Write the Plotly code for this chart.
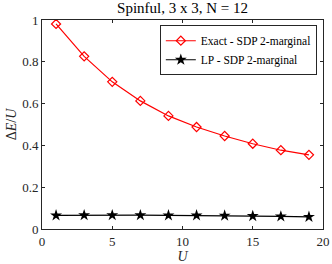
import plotly.graph_objects as go

U = [1, 3, 5, 7, 9, 11, 13, 15, 17, 19]
exact_sdp = [0.981, 0.826, 0.704, 0.613, 0.541, 0.488, 0.445, 0.408, 0.377, 0.355]
lp_sdp = [0.065, 0.066, 0.066, 0.066, 0.065, 0.065, 0.064, 0.062, 0.060, 0.058]
x_ticks = [0, 5, 10, 15, 20]
y_ticks = [0, 0.2, 0.4, 0.6, 0.8, 1]

font = "Liberation Serif, Times New Roman, Times, serif"
fig = go.Figure()
fig.add_trace(go.Scatter(x=U, y=exact_sdp, mode="lines+markers", name="Exact - SDP 2-marginal",
                         line=dict(color="#ff0000", width=1.2),
                         marker=dict(symbol="diamond-open", size=7, color="#ff0000", line=dict(width=1.2))))
fig.add_trace(go.Scatter(x=U, y=lp_sdp, mode="lines+markers", name="LP - SDP 2-marginal",
                         line=dict(color="#000000", width=1.2),
                         marker=dict(symbol="star", size=9, color="#000000")))

axis_common = dict(showgrid=False, zeroline=False, showline=True, linecolor="#262626", linewidth=1,
                   mirror="ticks", ticks="inside", ticklen=3, tickcolor="#262626", automargin=False,
                   tickfont=dict(family=font, size=13, color="#262626"))
fig.update_xaxes(range=[0, 20], tickvals=x_ticks, ticktext=[str(v) for v in x_ticks],
                 title=dict(text="<i>U</i>", font=dict(family=font, size=14, color="#262626"), standoff=0),
                 **axis_common)
fig.update_yaxes(range=[0, 1], tickvals=y_ticks, ticktext=["0", "0.2", "0.4", "0.6", "0.8", "1"],
                 title=dict(text="Δ<i>E</i>/<i>U</i>", font=dict(family=font, size=14, color="#262626"), standoff=2),
                 **axis_common)
fig.update_layout(
    width=332, height=264,
    margin=dict(l=42, r=9, t=20, b=35),
    paper_bgcolor="white", plot_bgcolor="white",
    title=dict(text="Spinful, 3 x 3, N = 12", x=0.55, xanchor="center", y=0.99, yanchor="top",
               font=dict(family=font, size=15, color="#000000")),
    legend=dict(x=0.978, y=0.975, xanchor="right", yanchor="top", bgcolor="white",
                bordercolor="#262626", borderwidth=1,
                font=dict(family=font, size=11.5, color="#000000"),
                tracegroupgap=0, itemwidth=30),
    showlegend=True,
)
fig.write_html("out.html", config={"displayModeBar": False},
               post_script="document.body.style.margin='0';document.body.style.overflow='hidden';")
